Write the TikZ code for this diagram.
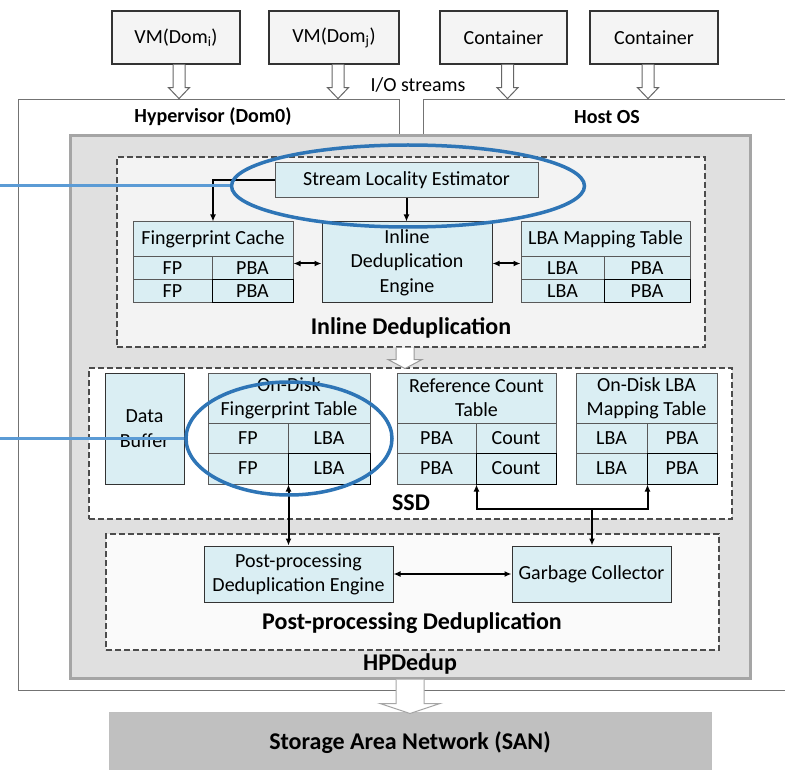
\documentclass[tikz,border=0pt]{standalone}
\usepackage{fontspec}
\setmainfont{Carlito}
\usetikzlibrary{arrows.meta,calc,shapes.geometric}
\definecolor{cellfill}{HTML}{DAEEF3}
\definecolor{ellblue}{HTML}{2E75B6}
\definecolor{lineblue}{HTML}{5B9BD5}
\definecolor{hpfill}{HTML}{E0E0E0}
\definecolor{hpdraw}{HTML}{A5A5A5}
\definecolor{inlfill}{HTML}{F3F3F3}
\definecolor{ppfill}{HTML}{FAFAFA}
\definecolor{sanfill}{HTML}{C0C0C0}
\definecolor{topfill}{HTML}{F4F4F4}
\newcommand\regtxt{\fontsize{20}{24}\selectfont}
\newcommand\lbltxt{\bfseries\fontsize{24}{28}\selectfont}
\newcommand\hollowarrow[6]{%
  \draw[#6] ($(#1)+(-#3,0)$) -- ($(#1)+(-#3,#2-#5)$) -- ($(#1)+(-#4,#2-#5)$) -- ($(#1)+(0,#2)$) -- ($(#1)+(#4,#2-#5)$) -- ($(#1)+(#3,#2-#5)$) -- ($(#1)+(#3,0)$);}
\begin{document}
\begin{tikzpicture}[x=1pt,y=-1pt,
  >={Latex[length=7pt,width=6pt]},
  topbox/.style={draw=black!80, line width=1.2pt, fill=topfill, minimum height=53pt, inner sep=0pt, font=\regtxt},
  cell/.style={draw=black!65, line width=1pt, fill=cellfill, inner sep=0pt, align=center, font=\regtxt},
  dashbox/.style={draw=black!70, line width=1.1pt, dash pattern=on 6pt off 3pt, inner sep=0pt},
  conn/.style={line width=2pt, draw=black},
  lbl/.style={font=\lbltxt, inner sep=0pt},
  hollow/.style={draw=black!60, fill=white, line width=1pt},
  frame/.style={draw=black!55, line width=1pt},
  callout/.style={draw=lineblue, line width=3pt},
  ring/.style={ellipse, draw=ellblue, line width=3.5pt, inner sep=0pt}]
\useasboundingbox (0,0) rectangle (785,770);
\fill[white] (0,0) rectangle (785,770);

% top boxes
\node[topbox, minimum width=128pt] (vm1) at (176,37.5) {VM(Dom\textsubscript{i})};
\node[topbox, minimum width=130pt] (vm2) at (334,37.5) {VM(Dom\textsubscript{j})};
\node[topbox, minimum width=127pt] (ct1) at (503.5,37.5) {Container};
\node[topbox, minimum width=128pt] (ct2) at (654,37.5) {Container};
\coordinate (a1) at ([xshift=3pt]vm1.south);
\coordinate (a2) at ([xshift=4pt]vm2.south);
\coordinate (a3) at ([xshift=4pt]ct1.south);
\coordinate (a4) at ([xshift=-6pt]ct2.south);
\hollowarrow{a1}{34}{6}{10.5}{11}{hollow}
\hollowarrow{a2}{34}{6}{10.5}{11}{hollow}
\hollowarrow{a3}{34}{6}{10.5}{11}{hollow}
\hollowarrow{a4}{34}{6}{10.5}{11}{hollow}
\node[font=\regtxt, inner sep=0pt] (io) at (418,85) {I/O streams};

% hypervisor / host OS frames
\draw[frame] (18,690) -- (18,100) -- (399,100) -- (399,136);
\draw[frame] (423,136) -- (423,100) -- (785,100);
\draw[frame] (18,690) -- (785,690);
\node[font=\bfseries\fontsize{20}{24}\selectfont, inner sep=0pt] (hyp) at (213,117) {Hypervisor (Dom0)};
\node[font=\bfseries\fontsize{20}{24}\selectfont, inner sep=0pt] (host) at (607,117) {Host OS};

% HPDedup box
\node[draw=hpdraw, fill=hpfill, line width=3pt, minimum width=680pt, minimum height=542pt, inner sep=0pt] (hp) at (410,407) {};
\node[dashbox, fill=inlfill, minimum width=588pt, minimum height=190pt] (inl) at (411,252) {};
\node[dashbox, fill=white, minimum width=643pt, minimum height=151pt] (ssd) at (410.5,443.5) {};
\node[dashbox, fill=ppfill, minimum width=613pt, minimum height=116pt] (pp) at (412.5,592) {};

% inline dedup content
\node[cell, minimum width=263pt, minimum height=35pt] (sle) at (406.5,180.5) {Stream Locality Estimator};
\node[cell, minimum width=160pt, minimum height=35pt] (fch) at (213,239.5) {Fingerprint Cache};
\node[cell, minimum width=79pt, minimum height=23pt] (fc11) at (172.5,268.5) {FP};
\node[cell, minimum width=81pt, minimum height=23pt] (fc12) at (252.5,268.5) {PBA};
\node[cell, minimum width=79pt, minimum height=23pt] (fc21) at (172.5,291.5) {FP};
\node[cell, minimum width=81pt, minimum height=23pt, draw=black] (fc22) at (252.5,291.5) {PBA};
\node[cell, minimum width=170pt, minimum height=81pt, draw=black!80, font=\fontsize{20}{24.5}\selectfont] (ide) at (407,262.5) {Inline\\Deduplication\\Engine};
\node[cell, minimum width=169pt, minimum height=35pt] (lbh) at (605.5,239.5) {LBA Mapping Table};
\node[cell, minimum width=83pt, minimum height=23pt] (lb11) at (562.5,268.5) {LBA};
\node[cell, minimum width=86pt, minimum height=23pt] (lb12) at (647,268.5) {PBA};
\node[cell, minimum width=83pt, minimum height=23pt] (lb21) at (562.5,291.5) {LBA};
\node[cell, minimum width=86pt, minimum height=23pt, draw=black] (lb22) at (647,291.5) {PBA};
\node[lbl] (inlt) at (411,328) {Inline Deduplication};

\draw[conn,->] (sle.west) -| (fch.north);
\draw[conn,->] (sle.south) -- (sle.south |- ide.north);
\draw[conn,<->] ([yshift=5pt]fc12.east) -- ([yshift=5pt]fc12.east -| ide.west);
\draw[conn,<->] ([yshift=5pt]lb11.west) -- ([yshift=5pt]lb11.west -| ide.east);

\coordinate (a5) at ([xshift=-6pt]inl.south);
\hollowarrow{a5}{21}{9}{17}{9}{hollow, draw=black!40}

% SSD content
\node[cell, minimum width=79pt, minimum height=111pt, draw=black!80, font=\fontsize{20}{25}\selectfont] (buf) at (144.5,428.5) {Data\\Buffer};
\node[cell, minimum width=162pt, minimum height=50pt, font=\fontsize{20}{24}\selectfont] (odh) at (289,398) {On-Disk\\Fingerprint Table};
\node[cell, minimum width=80pt, minimum height=30pt] (od11) at (248,438) {FP};
\node[cell, minimum width=82pt, minimum height=30pt] (od12) at (329,438) {LBA};
\node[cell, minimum width=80pt, minimum height=31pt] (od21) at (248,468.5) {FP};
\node[cell, minimum width=82pt, minimum height=31pt, draw=black] (od22) at (329,468.5) {LBA};
\node[cell, minimum width=159pt, minimum height=50pt, font=\fontsize{20}{24}\selectfont] (rch) at (476.5,398) {Reference Count\\Table};
\node[cell, minimum width=79pt, minimum height=30pt] (rc11) at (436.5,438) {PBA};
\node[cell, minimum width=80pt, minimum height=30pt] (rc12) at (516,438) {Count};
\node[cell, minimum width=79pt, minimum height=31pt] (rc21) at (436.5,468.5) {PBA};
\node[cell, minimum width=80pt, minimum height=31pt, draw=black] (rc22) at (516,468.5) {Count};
\node[cell, minimum width=141pt, minimum height=50pt, font=\fontsize{20}{24}\selectfont] (olh) at (646.5,398) {On-Disk LBA\\Mapping Table};
\node[cell, minimum width=71pt, minimum height=30pt] (ol11) at (611.5,438) {LBA};
\node[cell, minimum width=70pt, minimum height=30pt] (ol12) at (682,438) {PBA};
\node[cell, minimum width=71pt, minimum height=31pt] (ol21) at (611.5,468.5) {LBA};
\node[cell, minimum width=70pt, minimum height=31pt, draw=black] (ol22) at (682,468.5) {PBA};
\node[lbl] (ssdt) at (411,503) {SSD};

% post-processing content
\node[cell, minimum width=189pt, minimum height=56pt, draw=black!80] (ppde) at (298.5,574) {Post-processing\\Deduplication Engine};
\node[cell, minimum width=159pt, minimum height=56pt, draw=black!80] (gc) at (591.5,574) {Garbage Collector};
\node[lbl] (ppt) at (412,623) {Post-processing Deduplication};
\node[lbl] (hpt) at (410,664) {HPDedup};

\draw[conn,<->] (od21.south east) -- (od21.south east |- ppde.north);
\coordinate (bus) at (592,509);
\draw[conn,<->] (rc21.south east) |- (bus) -| (ol21.south east);
\draw[conn,->] (bus) -- (bus |- gc.north);
\draw[conn,<->] (ppde.east) -- (gc.west);

% SAN
\node[fill=sanfill, draw=black!25, minimum width=602pt, minimum height=64pt, inner sep=0pt] (san) at (410,744) {};
\node[lbl] (sant) at (410,743) {Storage Area Network (SAN)};
\coordinate (a6) at (hp.south);
\hollowarrow{a6}{34}{14}{30}{10}{hollow, draw=black!35, fill=white}

% callouts
\node[ring, minimum width=353pt, minimum height=82pt] (e1) at (408,186) {};
\node[ring, minimum width=206pt, minimum height=113pt] (e2) at (289,438.5) {};
\coordinate (l1) at (0,186);
\coordinate (l2) at (0,438.5);
\draw[callout] (l1) -- (e1.west);
\draw[callout] (l2) -- (e2.west);
\end{tikzpicture}
\end{document}
